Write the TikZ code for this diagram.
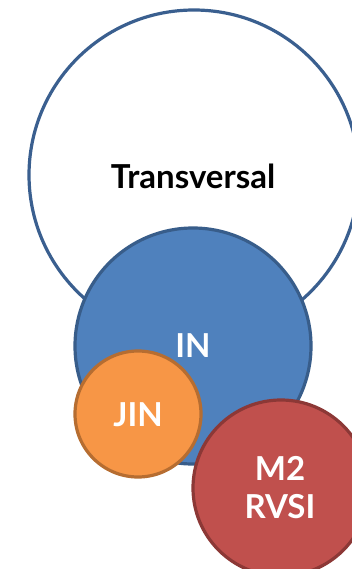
\documentclass[tikz,border=0pt]{standalone}
\usepackage{fontspec}
\setmainfont{Lato}
\definecolor{bigline}{HTML}{3A5F8F}
\definecolor{infill}{HTML}{4F81BD}
\definecolor{inline}{HTML}{385D8A}
\definecolor{jinfill}{HTML}{F79646}
\definecolor{jinline}{HTML}{B66D31}
\definecolor{rfill}{HTML}{C0504D}
\definecolor{rline}{HTML}{8C3836}
\begin{document}
\begin{tikzpicture}[x=1pt,y=-1pt,
  circ/.style={circle,inner sep=0pt,line width=3.2pt},
  lbl/.style={font=\bfseries\fontsize{33}{38}\selectfont,align=center}]
\useasboundingbox (0,0) rectangle (352,569);
\begin{scope}
\clip (0,0) rectangle (352,569);
\node[circ,draw=bigline,fill=white,minimum size=330pt] (trans) at (194,175) {};
\node[circ,draw=inline,fill=infill,minimum size=236pt] (in) at (193,346) {};
\node[circ,draw=jinline,fill=jinfill,minimum size=126pt] (jin) at (138,414) {};
\node[circ,draw=rline,fill=rfill,minimum size=176pt] (rvsi) at (281,488) {};
\end{scope}
\node[lbl,text=black] (ttrans) at (193,176) {Transversal};
\node[lbl,text=white] (tin) at (193,346) {IN};
\node[lbl,text=white] (tjin) at (138,415) {JIN};
\node[lbl,text=white] (trvsi) at (280,488) {M2\\RVSI};
\end{tikzpicture}
\end{document}
